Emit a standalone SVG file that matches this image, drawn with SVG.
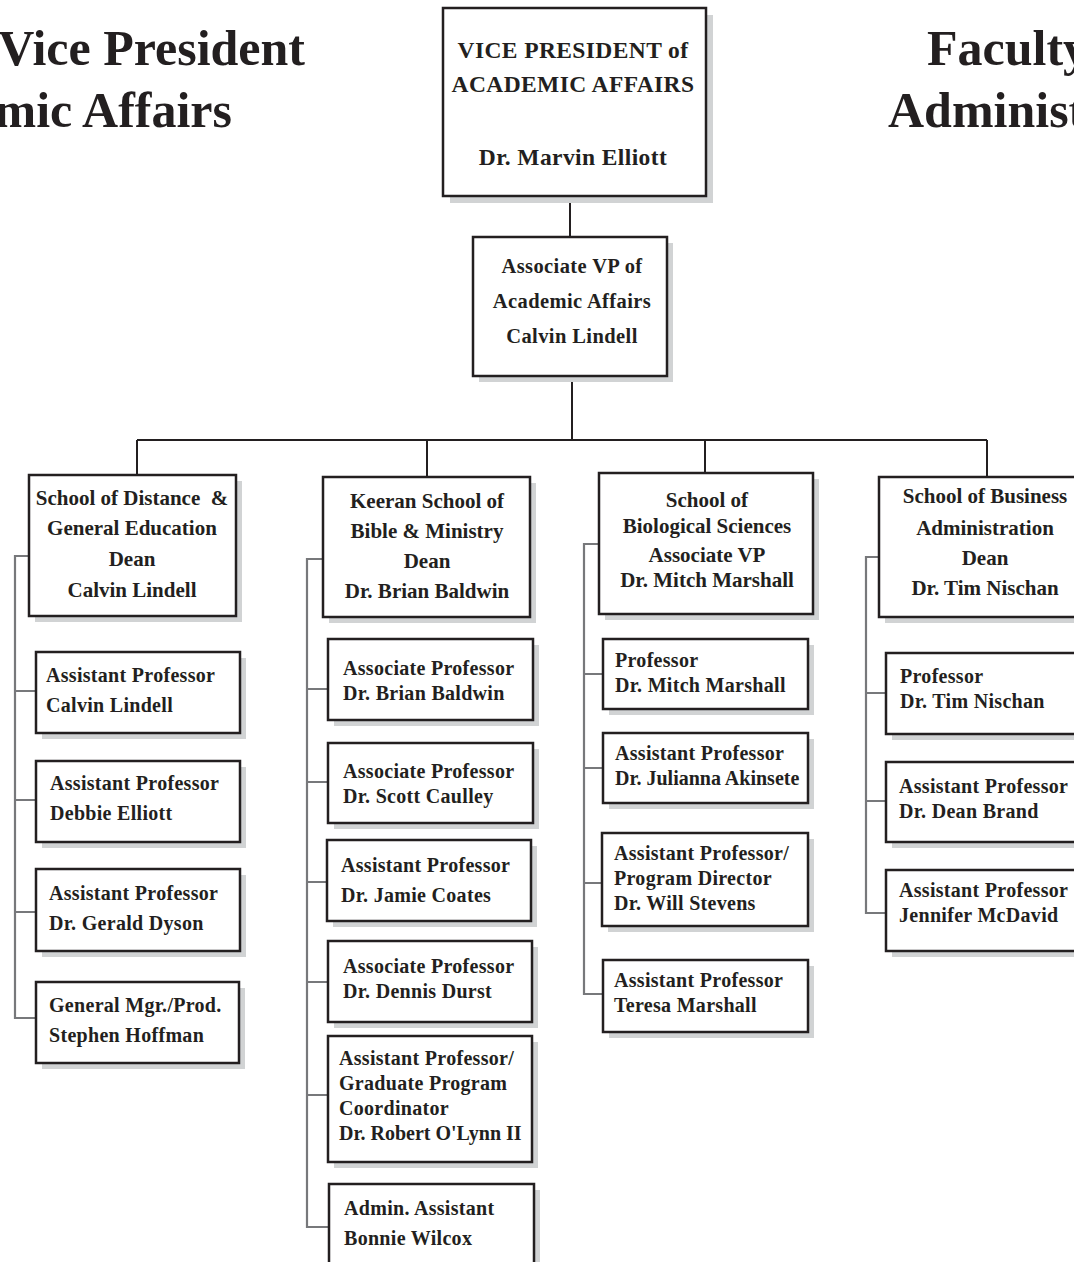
<svg xmlns="http://www.w3.org/2000/svg" width="1074" height="1262" viewBox="0 0 1074 1262">
<style>
.bg{fill:#ffffff}
.sh{fill:#d1d3d4}
.bx{fill:#ffffff;stroke:#231f20;stroke-width:2.5}
.t{font-family:"Liberation Serif","Times New Roman",serif;font-weight:bold;fill:#231f20}
.big{font-size:50px}
.top{font-size:23.5px;text-anchor:middle;letter-spacing:0.4px}
.hd{font-size:20.5px;text-anchor:middle;letter-spacing:0.4px}
.sc{font-size:21px;text-anchor:middle}
.ch{font-size:20px;letter-spacing:0.3px}
.tight{letter-spacing:0px}
.main{fill:none;stroke:#231f20;stroke-width:2}
.sub{fill:none;stroke:#77787b;stroke-width:2.2}
</style>
<rect class="bg" x="0" y="0" width="1074" height="1262"/>
<g id="titles">
<text class="t big" x="305" y="65" text-anchor="end">Vice President</text>
<text class="t big" x="232" y="127" text-anchor="end">Academic Affairs</text>
<text class="t big" x="927" y="65">Faculty</text>
<text class="t big" x="888" y="127">Administration</text>
</g>
<g id="connectors">
<path class="main" d="M570,196 V237 M572,376 V440 M137,440 H987 M137,440 V475 M427,440 V477 M705,440 V473 M987,440 V477"/>
<path class="sub" d="M29,556 H15 V1018 H36 M15,691 H36 M15,800 H36 M15,912 H36"/>
<path class="sub" d="M323,559 H307 V1227 H329 M307,689 H328 M307,782 H328 M307,882 H327 M307,982 H328 M307,1095 H328"/>
<path class="sub" d="M599,544 H584 V994 H603 M584,674 H603 M584,768 H603 M584,883 H602"/>
<path class="sub" d="M879,557 H866 V913 H886 M866,693 H886 M866,801 H886"/>
</g>
<g id="vp">
<rect class="sh" x="450" y="15" width="263" height="188"/>
<rect class="bx" x="443" y="8" width="263" height="188"/>
<text class="t top" x="573" y="58">VICE PRESIDENT of</text>
<text class="t top" x="573" y="92">ACADEMIC AFFAIRS</text>
<text class="t top" x="573" y="165">Dr. Marvin Elliott</text>
</g>
<g id="avp">
<rect class="sh" x="479" y="243" width="194" height="139"/>
<rect class="bx" x="473" y="237" width="194" height="139"/>
<text class="t hd" x="572" y="273">Associate VP of</text>
<text class="t hd" x="572" y="308">Academic Affairs</text>
<text class="t hd" x="572" y="343">Calvin Lindell</text>
</g>
<g id="school-distance">
<rect class="sh" x="35" y="481" width="207" height="141"/>
<rect class="bx" x="29" y="475" width="207" height="141"/>
<text class="t sc" x="132" y="505" xml:space="preserve">School of Distance  &amp;</text>
<text class="t sc" x="132" y="535">General Education</text>
<text class="t sc" x="132" y="566">Dean</text>
<text class="t sc" x="132" y="597">Calvin Lindell</text>
</g>
<g id="school-bible">
<rect class="sh" x="329" y="483" width="207" height="140"/>
<rect class="bx" x="323" y="477" width="207" height="140"/>
<text class="t sc" x="427" y="508">Keeran School of</text>
<text class="t sc" x="427" y="538">Bible &amp; Ministry</text>
<text class="t sc" x="427" y="568">Dean</text>
<text class="t sc" x="427" y="598">Dr. Brian Baldwin</text>
</g>
<g id="school-bio">
<rect class="sh" x="605" y="479" width="214" height="141"/>
<rect class="bx" x="599" y="473" width="214" height="141"/>
<text class="t sc" x="707" y="507">School of</text>
<text class="t sc" x="707" y="533">Biological Sciences</text>
<text class="t sc" x="707" y="562">Associate VP</text>
<text class="t sc" x="707" y="587">Dr. Mitch Marshall</text>
</g>
<g id="school-business">
<rect class="sh" x="885" y="483" width="212" height="140"/>
<rect class="bx" x="879" y="477" width="212" height="140"/>
<text class="t sc" x="985" y="503">School of Business</text>
<text class="t sc" x="985" y="535">Administration</text>
<text class="t sc" x="985" y="565">Dean</text>
<text class="t sc" x="985" y="595">Dr. Tim Nischan</text>
</g>
<g id="c1a">
<rect class="sh" x="42" y="658" width="204" height="81"/>
<rect class="bx" x="36" y="652" width="204" height="81"/>
<text class="t ch" x="46" y="682">Assistant Professor</text>
<text class="t ch" x="46" y="712">Calvin Lindell</text>
</g>
<g id="c1b">
<rect class="sh" x="42" y="767" width="204" height="81"/>
<rect class="bx" x="36" y="761" width="204" height="81"/>
<text class="t ch" x="50" y="790">Assistant Professor</text>
<text class="t ch" x="50" y="820">Debbie Elliott</text>
</g>
<g id="c1c">
<rect class="sh" x="42" y="875" width="204" height="82"/>
<rect class="bx" x="36" y="869" width="204" height="82"/>
<text class="t ch" x="49" y="900">Assistant Professor</text>
<text class="t ch" x="49" y="930">Dr. Gerald Dyson</text>
</g>
<g id="c1d">
<rect class="sh" x="42" y="988" width="203" height="81"/>
<rect class="bx" x="36" y="982" width="203" height="81"/>
<text class="t ch" x="49" y="1012">General Mgr./Prod.</text>
<text class="t ch" x="49" y="1042">Stephen Hoffman</text>
</g>
<g id="c2a">
<rect class="sh" x="334" y="645" width="205" height="81"/>
<rect class="bx" x="328" y="639" width="205" height="81"/>
<text class="t ch" x="343" y="675">Associate Professor</text>
<text class="t ch" x="343" y="700">Dr. Brian Baldwin</text>
</g>
<g id="c2b">
<rect class="sh" x="334" y="749" width="205" height="80"/>
<rect class="bx" x="328" y="743" width="205" height="80"/>
<text class="t ch" x="343" y="778">Associate Professor</text>
<text class="t ch" x="343" y="803">Dr. Scott Caulley</text>
</g>
<g id="c2c">
<rect class="sh" x="333" y="846" width="204" height="81"/>
<rect class="bx" x="327" y="840" width="204" height="81"/>
<text class="t ch" x="341" y="872">Assistant Professor</text>
<text class="t ch" x="341" y="902">Dr. Jamie Coates</text>
</g>
<g id="c2d">
<rect class="sh" x="334" y="947" width="204" height="81"/>
<rect class="bx" x="328" y="941" width="204" height="81"/>
<text class="t ch" x="343" y="973">Associate Professor</text>
<text class="t ch" x="343" y="998">Dr. Dennis Durst</text>
</g>
<g id="c2e">
<rect class="sh" x="334" y="1042" width="204" height="126"/>
<rect class="bx" x="328" y="1036" width="204" height="126"/>
<text class="t ch" x="339" y="1065">Assistant Professor/</text>
<text class="t ch" x="339" y="1090">Graduate Program</text>
<text class="t ch" x="339" y="1115">Coordinator</text>
<text class="t ch tight" x="339" y="1140">Dr. Robert O'Lynn II</text>
</g>
<g id="c2f">
<rect class="sh" x="335" y="1190" width="205" height="90"/>
<rect class="bx" x="329" y="1184" width="205" height="90"/>
<text class="t ch" x="344" y="1215">Admin. Assistant</text>
<text class="t ch" x="344" y="1245">Bonnie Wilcox</text>
</g>
<g id="c3a">
<rect class="sh" x="609" y="645" width="205" height="70"/>
<rect class="bx" x="603" y="639" width="205" height="70"/>
<text class="t ch" x="615" y="667">Professor</text>
<text class="t ch" x="615" y="692">Dr. Mitch Marshall</text>
</g>
<g id="c3b">
<rect class="sh" x="609" y="739" width="205" height="70"/>
<rect class="bx" x="603" y="733" width="205" height="70"/>
<text class="t ch" x="615" y="760">Assistant Professor</text>
<text class="t ch tight" x="615" y="785">Dr. Julianna Akinsete</text>
</g>
<g id="c3c">
<rect class="sh" x="608" y="839" width="206" height="93"/>
<rect class="bx" x="602" y="833" width="206" height="93"/>
<text class="t ch" x="614" y="860">Assistant Professor/</text>
<text class="t ch" x="614" y="885">Program Director</text>
<text class="t ch" x="614" y="910">Dr. Will Stevens</text>
</g>
<g id="c3d">
<rect class="sh" x="609" y="966" width="205" height="72"/>
<rect class="bx" x="603" y="960" width="205" height="72"/>
<text class="t ch" x="614" y="987">Assistant Professor</text>
<text class="t ch" x="614" y="1012">Teresa Marshall</text>
</g>
<g id="c4a">
<rect class="sh" x="892" y="659" width="205" height="81"/>
<rect class="bx" x="886" y="653" width="205" height="81"/>
<text class="t ch" x="900" y="683">Professor</text>
<text class="t ch" x="900" y="708">Dr. Tim Nischan</text>
</g>
<g id="c4b">
<rect class="sh" x="892" y="768" width="205" height="80"/>
<rect class="bx" x="886" y="762" width="205" height="80"/>
<text class="t ch" x="899" y="793">Assistant Professor</text>
<text class="t ch" x="899" y="818">Dr. Dean Brand</text>
</g>
<g id="c4c">
<rect class="sh" x="892" y="876" width="205" height="81"/>
<rect class="bx" x="886" y="870" width="205" height="81"/>
<text class="t ch" x="899" y="897">Assistant Professor</text>
<text class="t ch" x="899" y="922">Jennifer McDavid</text>
</g>
</svg>
